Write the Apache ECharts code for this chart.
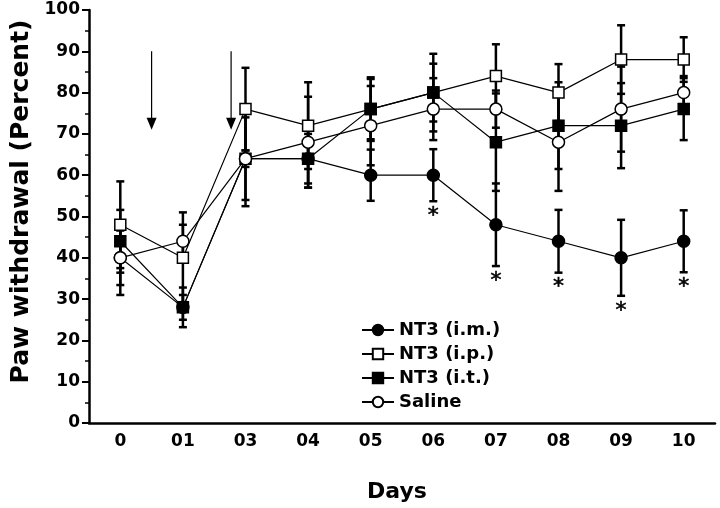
<!DOCTYPE html>
<html>
<head>
<meta charset="utf-8">
<script src="https://cdn.jsdelivr.net/npm/echarts@6/dist/echarts.min.js"></script>
<style>html,body{margin:0;padding:0;background:#fff}#c{width:720px;height:508px}</style>
</head>
<body>
<div id="c"></div>
<script>
const days = ['0','01','03','04','05','06','07','08','09','10'];
const imMean  = [40,28,64,64,60,60,48,44,40,44];
const imErr   = [6.6,3,2,7,6.2,6.3,10,7.6,9.2,7.5];
const ipMean  = [48,40,76,72,76,80,84,80,88,88];
const ipErr   = [10.5,11,10,10.5,7.7,9.4,7.7,6.9,8.3,5.4];
const itMean  = [44,28,64,64,76,80,68,72,72,76];
const itErr   = [7.6,4.8,11.5,6,7.3,7,11.8,10.5,10.3,7.5];
const salMean = [40,44,64,68,72,76,76,68,76,80];
const salErr  = [9,4,10,11,9.6,7.5,4.5,11.8,10.3,4];
const imSignificant = [0,0,0,0,0,1,1,1,1,1];
const arrowDay = [0.5, 1.77];
const arrowTop = [90, 90];
const arrowTip = [71, 71];
const yTicks = [0,10,20,30,40,50,60,70,80,90,100];

const FONT = 'DejaVu Sans';
const chart = echarts.init(document.getElementById('c'), null, {renderer:'canvas'});

function errSeries(key, means, errs) {
  return {
    type: 'custom', name: key + '_err', silent: true, z: 1,
    xAxisIndex: 0, yAxisIndex: 0,
    data: means.map((m, i) => [i, m - errs[i], m + errs[i]]),
    renderItem: (params, api) => {
      const lo = api.coord([api.value(0), api.value(1)]);
      const hi = api.coord([api.value(0), api.value(2)]);
      const w = 4;
      const st = {stroke: '#000', lineWidth: 2.5};
      return {type: 'group', children: [
        {type: 'line', shape: {x1: lo[0], y1: lo[1], x2: hi[0], y2: hi[1]}, style: st},
        {type: 'line', shape: {x1: lo[0]-w, y1: lo[1], x2: lo[0]+w, y2: lo[1]}, style: st},
        {type: 'line', shape: {x1: hi[0]-w, y1: hi[1], x2: hi[0]+w, y2: hi[1]}, style: st}
      ]};
    }
  };
}

function lineSeries(name, means, symbol, fill, z) {
  return {
    type: 'line', name: name, data: means, z: z,
    symbol: symbol, symbolSize: symbol === 'rect' ? 11 : 12,
    showAllSymbol: true,
    lineStyle: {color: '#000', width: 1.2},
    itemStyle: {color: fill, borderColor: '#000', borderWidth: 1.5},
    emphasis: {disabled: true},
    animation: false
  };
}

const option = {
  animation: false,
  grid: {left: 89, right: 5, top: 10, bottom: 83, containLabel: false},
  legend: {
    orient: 'vertical', left: 356, top: 316,
    itemWidth: 32, itemHeight: 13, itemGap: 6,
    data: ['NT3 (i.m.)', 'NT3 (i.p.)', 'NT3 (i.t.)', 'Saline'],
    textStyle: {fontFamily: FONT, fontWeight: 'bold', fontSize: 18, color: '#000', padding: [0,0,0,0]},
    lineStyle: {width: 2},
    selectedMode: false
  },
  xAxis: [{
    type: 'category', data: days, boundaryGap: true,
    name: 'Days', nameLocation: 'middle', nameGap: 58,
    nameTextStyle: {fontFamily: FONT, fontWeight: 'bold', fontSize: 22, color: '#000', padding: [0,10,0,0]},
    axisLine: {onZero: false, lineStyle: {color: '#000', width: 2.5}},
    axisTick: {alignWithLabel: true, length: 5, lineStyle: {width: 2, color: '#000'}},
    axisLabel: {fontFamily: FONT, fontWeight: 'bold', fontSize: 17, color: '#000', margin: 10},
    splitLine: {show: false}
  }, {
    type: 'value', min: -0.5, max: 9.5, show: false
  }],
  yAxis: {
    type: 'value', min: 0, max: 100, interval: 10,
    name: 'Paw withdrawal (Percent)', nameLocation: 'middle', nameGap: 54, nameRotate: 90,
    nameTextStyle: {fontFamily: FONT, fontWeight: 'bold', fontSize: 25, color: '#000', padding: [0,0,0,30]},
    axisLine: {show: true, onZero: false, lineStyle: {color: '#000', width: 2.5}},
    axisTick: {show: true, length: 7, lineStyle: {width: 2, color: '#000'}},
    minorTick: {show: true, splitNumber: 2, length: 4, lineStyle: {width: 1.5, color: '#000'}},
    axisLabel: {fontFamily: FONT, fontWeight: 'bold', fontSize: 17, color: '#000', margin: 9,
      formatter: v => yTicks.includes(v) ? String(v) : ''},
    splitLine: {show: false}
  },
  series: [
    errSeries('ip', ipMean, ipErr),
    errSeries('it', itMean, itErr),
    errSeries('im', imMean, imErr),
    errSeries('sal', salMean, salErr),
    lineSeries('NT3 (i.p.)', ipMean, 'rect', '#fff', 3),
    lineSeries('NT3 (i.t.)', itMean, 'rect', '#000', 4),
    lineSeries('NT3 (i.m.)', imMean, 'circle', '#000', 5),
    lineSeries('Saline', salMean, 'circle', '#fff', 6),
    {
      type: 'custom', name: 'stars', silent: true, z: 7,
      xAxisIndex: 0, yAxisIndex: 0,
      data: imMean.map((m, i) => [i, m - imErr[i], imSignificant[i]]),
      renderItem: (params, api) => {
        if (!api.value(2)) return null;
        const p = api.coord([api.value(0), api.value(1)]);
        return {type: 'text', style: {text: '*', x: p[0], y: p[1] + 15, align: 'center', verticalAlign: 'middle',
          font: 'normal 22px "DejaVu Sans"', fill: '#000', stroke: '#000', lineWidth: 0.6}};
      }
    },
    {
      type: 'custom', name: 'arrows', silent: true, z: 7,
      xAxisIndex: 1, yAxisIndex: 0,
      data: arrowDay.map((d, i) => [d, arrowTop[i], arrowTip[i]]),
      renderItem: (params, api) => {
        const a = api.coord([api.value(0), api.value(1)]);
        const b = api.coord([api.value(0), api.value(2)]);
        const hw = 5, hh = 12;
        return {type: 'group', children: [
          {type: 'line', shape: {x1: a[0], y1: a[1], x2: b[0], y2: b[1] - hh + 1}, style: {stroke: '#000', lineWidth: 1.2}},
          {type: 'polygon', shape: {points: [[b[0]-hw, b[1]-hh], [b[0]+hw, b[1]-hh], [b[0], b[1]]]}, style: {fill: '#000'}}
        ]};
      }
    }
  ]
};
chart.setOption(option);
</script>
</body>
</html>
